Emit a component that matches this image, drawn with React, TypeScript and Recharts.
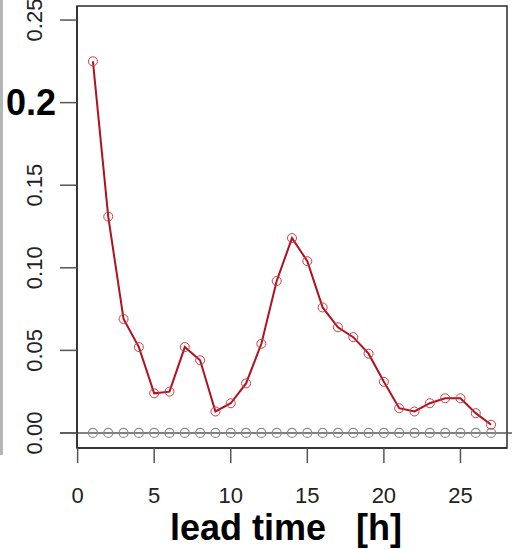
import {
  Line,
  LineChart,
  ReferenceArea,
  ReferenceLine,
  XAxis,
  YAxis,
} from "recharts";

// lead time (hours) and the two series
const leadTimes = [
  1, 2, 3, 4, 5, 6, 7, 8, 9, 10, 11, 12, 13, 14, 15, 16, 17, 18, 19, 20, 21,
  22, 23, 24, 25, 26, 27,
];
const errorValues = [
  0.225, 0.131, 0.069, 0.052, 0.024, 0.025, 0.052, 0.044, 0.013, 0.018, 0.03,
  0.054, 0.092, 0.118, 0.104, 0.076, 0.064, 0.058, 0.048, 0.031, 0.015, 0.013,
  0.018, 0.021, 0.021, 0.012, 0.005,
];
const referenceValues = [
  0, 0, 0, 0, 0, 0, 0, 0, 0, 0, 0, 0, 0, 0, 0, 0, 0, 0, 0, 0, 0, 0, 0, 0, 0,
  0, 0,
];

const xTicks = [0, 5, 10, 15, 20, 25];
const yTicks = [0, 0.05, 0.1, 0.15, 0.2, 0.25];
const yTickLabels = ["0.00", "0.05", "0.10", "0.15", "0.2", "0.25"];
const highlightedTick = 0.2;
const xTitle = "lead time\u00a0\u00a0\u00a0[h]";

const data = leadTimes.map((t, i) => ({
  t,
  err: errorValues[i],
  ref: referenceValues[i],
}));

const xDomain = [-0.04, 28.04];
const yDomain = [-0.0091, 0.2585];
const font = "'Liberation Sans', Arial, Helvetica, sans-serif";
const frame = "#2a2a2a";
const tickColor = "#555";

function XTick(props: any) {
  const { x, y, payload } = props;
  return (
    <text
      x={x}
      y={y + 40}
      textAnchor="middle"
      fontSize={22}
      fontFamily={font}
      fill="#222"
    >
      {payload.value}
    </text>
  );
}

function YTick(props: any) {
  const { x, y, payload } = props;
  const i = yTicks.findIndex((v) => Math.abs(v - payload.value) < 1e-9);
  const label = i >= 0 ? yTickLabels[i] : String(payload.value);
  if (Math.abs(payload.value - highlightedTick) < 1e-9) {
    return (
      <text
        x={x - 4}
        y={y + 12}
        textAnchor="end"
        fontSize={36}
        fontWeight="bold"
        fontFamily={font}
        fill="#000"
      >
        {label}
      </text>
    );
  }
  return (
    <text
      transform={`translate(${x - 18},${y}) rotate(-90)`}
      textAnchor="middle"
      fontSize={22}
      fontFamily={font}
      fill="#222"
    >
      {label}
    </text>
  );
}

function AxisTitle(props: any) {
  const vb = props.viewBox || { x: 77, y: 448, width: 430, height: 101 };
  return (
    <text
      x={vb.x + vb.width / 2 - 6}
      y={vb.y + 92}
      textAnchor="middle"
      fontSize={36}
      fontWeight="bold"
      fontFamily={font}
      fill="#000"
    >
      {xTitle}
    </text>
  );
}

function RedDot(props: any) {
  const { cx, cy } = props;
  if (cx == null || cy == null) return null;
  return (
    <circle cx={cx} cy={cy} r={4.5} fill="none" stroke="#d23c3c" strokeWidth={1} />
  );
}

function GreyDot(props: any) {
  const { cx, cy } = props;
  if (cx == null || cy == null) return null;
  return (
    <circle cx={cx} cy={cy} r={4.5} fill="none" stroke="#8a8a8a" strokeWidth={1.2} />
  );
}

function ZeroLine(props: any) {
  const { x1, x2, y1, y2 } = props;
  return (
    <line
      x1={Math.min(x1, x2) - 17}
      x2={Math.max(x1, x2) + 6}
      y1={y1}
      y2={y2}
      stroke="#555"
      strokeWidth={1.6}
    />
  );
}

export default function App() {
  return (
    <div
      style={{
        position: "fixed",
        left: 0,
        top: 0,
        width: 512,
        height: 549,
        background: "#fff",
      }}
    >
      <div
        style={{
          position: "absolute",
          left: 0,
          top: 0,
          width: 3,
          height: 455,
          background: "#b5b5b5",
        }}
      />
      <LineChart
        width={512}
        height={549}
        data={data}
        margin={{ top: 6, right: 5, bottom: 0, left: 0 }}
      >
        <XAxis
          dataKey="t"
          type="number"
          domain={xDomain}
          allowDataOverflow
          ticks={xTicks}
          interval={0}
          height={101}
          tickSize={15}
          tickMargin={0}
          tick={<XTick />}
          tickLine={{ stroke: tickColor, strokeWidth: 1.5 }}
          axisLine={{ stroke: frame, strokeWidth: 1.5 }}
          label={<AxisTitle />}
        />
        <YAxis
          type="number"
          domain={yDomain}
          allowDataOverflow
          ticks={yTicks}
          interval={0}
          width={77}
          tickSize={17}
          tickMargin={0}
          tick={<YTick />}
          tickLine={{ stroke: tickColor, strokeWidth: 1.5 }}
          axisLine={{ stroke: frame, strokeWidth: 1.5 }}
        />
        {/* plot frame (R-style box) spanning the full axis domains */}
        <ReferenceArea
          x1={xDomain[0]}
          x2={xDomain[1]}
          y1={yDomain[0]}
          y2={yDomain[1]}
          fill="none"
          fillOpacity={0}
          stroke={frame}
          strokeWidth={1.5}
          ifOverflow="visible"
        />
        <ReferenceLine y={0} shape={<ZeroLine />} ifOverflow="visible" />
        <Line
          dataKey="ref"
          stroke="none"
          dot={<GreyDot />}
          activeDot={false}
          isAnimationActive={false}
        />
        <Line
          dataKey="err"
          stroke="#b01020"
          strokeWidth={2}
          dot={<RedDot />}
          activeDot={false}
          isAnimationActive={false}
        />
      </LineChart>
    </div>
  );
}
